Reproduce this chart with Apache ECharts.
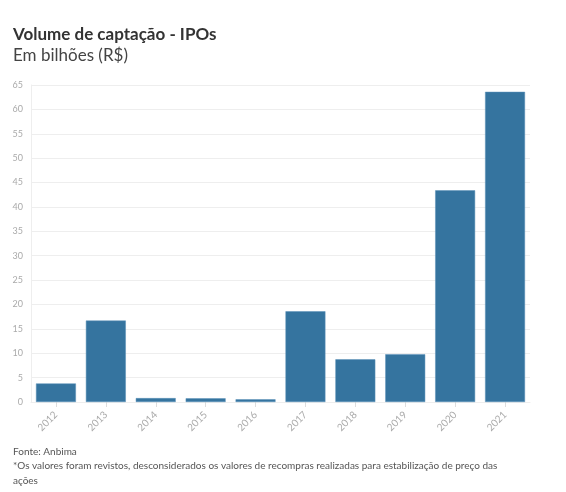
<!DOCTYPE html>
<html><head><meta charset="utf-8">
<script src="https://cdn.jsdelivr.net/npm/echarts@6/dist/echarts.min.js"></script>
<style>html,body{margin:0;padding:0;background:#fff}#c{width:566px;height:492px}</style>
</head><body><div id="c"></div>
<script>
const categories = ['2012','2013','2014','2015','2016','2017','2018','2019','2020','2021'];
const values = [3.8, 16.7, 0.8, 0.75, 0.55, 18.6, 8.75, 9.8, 43.4, 63.6];
const titleText = 'Volume de captação - IPOs';
const subtitleText = 'Em bilhões (R$)';
const footer1 = 'Fonte: Anbima';
const footer2 = '*Os valores foram revistos, desconsiderados os valores de recompras realizadas para estabilização de preço das';
const footer3 = 'ações';
const FONT = 'Lato';
const chart = echarts.init(document.getElementById('c'), null, {renderer:'canvas'});
chart.setOption({
  animation:false,
  backgroundColor:'#fff',
  textStyle:{fontFamily:FONT},
  title:[
    {text:titleText, left:8, top:21, textStyle:{fontFamily:FONT, fontSize:17, fontWeight:'bold', color:'#333'}},
    {text:subtitleText, left:8, top:42, textStyle:{fontFamily:FONT, fontSize:17, fontWeight:'normal', color:'#444'}},
    {text:footer1, left:8, top:442, textStyle:{fontFamily:FONT, fontSize:10, fontWeight:'normal', color:'#555'}},
    {text:footer2, left:8, top:456, textStyle:{fontFamily:FONT, fontSize:10, fontWeight:'normal', color:'#555'}},
    {text:footer3, left:8, top:471, textStyle:{fontFamily:FONT, fontSize:10, fontWeight:'normal', color:'#555'}}
  ],
  grid:{left:31, right:36, top:85, bottom:90, containLabel:false},
  xAxis:{type:'category', data:categories,
    axisLine:{show:true, lineStyle:{color:'#eee'}},
    axisTick:{show:true, alignWithLabel:true, lineStyle:{color:'#ddd'}},
    axisLabel:{rotate:45, color:'#aaa', fontSize:10, margin:11}},
  yAxis:{type:'value', min:0, max:65, interval:5,
    axisLine:{show:true, lineStyle:{color:'#eee'}},
    axisTick:{show:false},
    splitLine:{lineStyle:{color:'#eee'}},
    axisLabel:{color:'#aaa', fontSize:9, margin:8}},
  series:[{type:'bar', data:values, barCategoryGap:'20%',
    itemStyle:{color:'#35749f', borderColor:'#5a91b8', borderWidth:0.5}}]
});
</script></body></html>
